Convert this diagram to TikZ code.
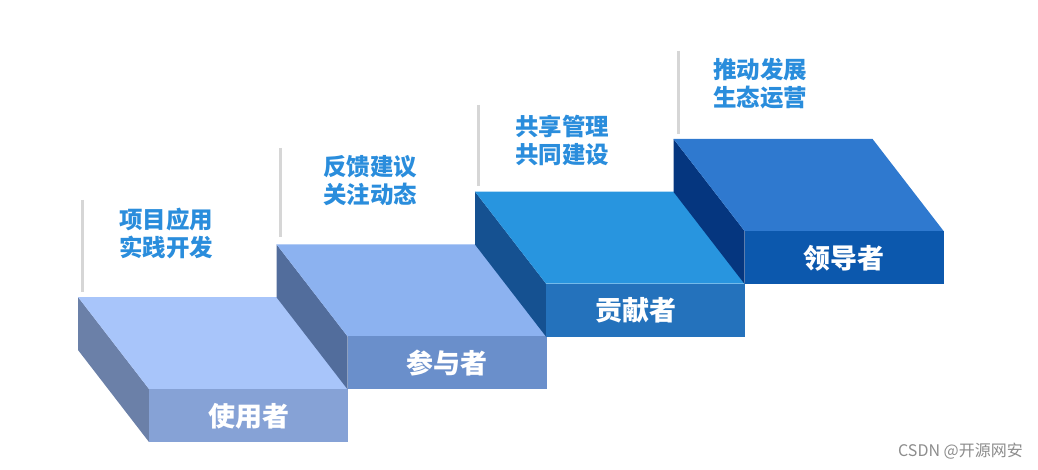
\documentclass[tikz,border=0pt]{standalone}
\usepackage{fontspec}
\newfontfamily\cjk{Noto Sans CJK SC}
\definecolor{noteblue}{HTML}{2A8DDC}
\definecolor{markgray}{HTML}{D6D6D6}
\definecolor{userTop}{HTML}{A8C5FA}
\definecolor{userFront}{HTML}{86A2D6}
\definecolor{userSide}{HTML}{6B80A8}
\definecolor{partTop}{HTML}{8CB2F0}
\definecolor{partFront}{HTML}{6A8FCB}
\definecolor{partSide}{HTML}{526D9C}
\definecolor{contTop}{HTML}{2895DF}
\definecolor{contFront}{HTML}{2472BC}
\definecolor{contSide}{HTML}{155191}
\definecolor{leadTop}{HTML}{2F79CF}
\definecolor{leadFront}{HTML}{0C58AD}
\definecolor{leadSide}{HTML}{05367F}

\begin{document}
\begin{tikzpicture}[x=1pt,y=-1pt,
    notetext/.style={anchor=west,inner sep=0pt,align=left,text=noteblue,
      font=\cjk\bfseries\fontsize{23.5}{28}\selectfont},
    roletext/.style={inner sep=0pt,text=white,font=\cjk\bfseries\fontsize{27}{30}\selectfont},
    marker/.style={line width=3pt,draw=markgray}]
    \useasboundingbox (0,0) rectangle (1038,470);

    % four steps, left to right
    \foreach \i/\ttop/\tfront/\tside/\role/\rdx/\mx/\mt/\mb/\nx/\ny/\noteA/\noteB in {
        0/userTop/userFront/userSide/使用者/0/82/200/292/119/233/项目应用/实践开发,
        1/partTop/partFront/partSide/参与者/0/280/148/237/323/181/反馈建议/关注动态,
        2/contTop/contFront/contSide/贡献者/-10/478/105/186/515/140/共享管理/共同建设,
        3/leadTop/leadFront/leadSide/领导者/0/678/51/134/713/84/推动发展/生态运营}{
      \pgfmathsetmacro\xa{78+198.5*\i}
      \pgfmathsetmacro\ya{297-52.7*\i}
      % side, top and front faces
      \fill[\tside] (\xa,\ya) -- ++(71,92) -- ++(0,53) -- ++(-71,-92) -- cycle;
      \fill[\ttop] (\xa,\ya) -- ++(199,0) -- ++(71,92) -- ++(-199,0) -- cycle;
      \fill[\tfront] (\xa+71,\ya+92) rectangle ++(199,53);
      \node[roletext] (role\i) at (\xa+170.5+\rdx,\ya+119) {\role};
      % note with grey marker
      \coordinate (mtop\i) at (\mx,\mt);
      \coordinate (mbot\i) at (\mx,\mb);
      \draw[marker] (mtop\i) -- (mbot\i);
      \node[notetext] (note\i) at (\nx,\ny) {\noteA\\\noteB};
    }

    % watermark
    \node[anchor=east,inner sep=0pt,text=black!45,font=\cjk\fontsize{16}{16}\selectfont]
      (mark) at (1023,451) {CSDN @开源网安};
\end{tikzpicture}
\end{document}
